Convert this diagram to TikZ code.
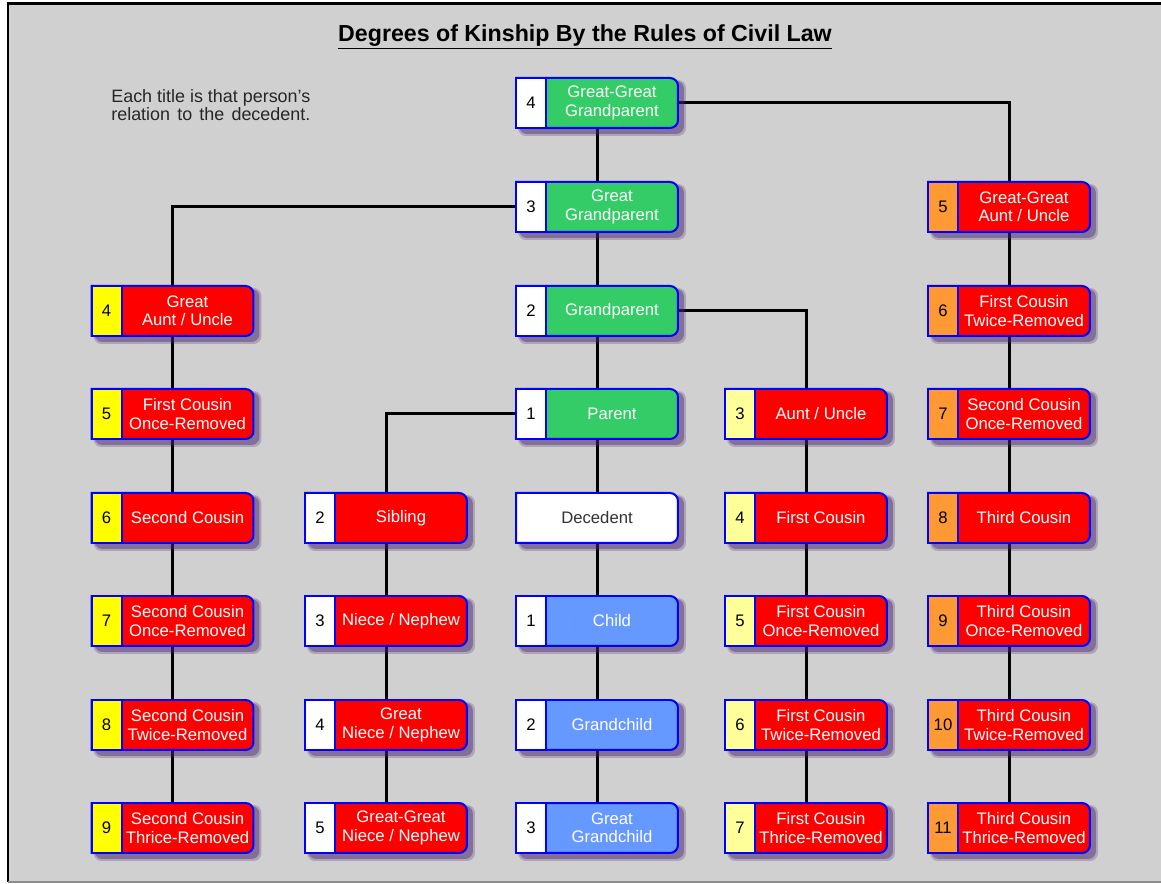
\documentclass[tikz,border=0pt]{standalone}
\usepackage{fontspec}
\setmainfont{Liberation Sans}
\usetikzlibrary{positioning, backgrounds}

\definecolor{kinblue}{RGB}{0,0,255}
\definecolor{kingreen}{RGB}{51,204,102}
\definecolor{kinred}{RGB}{255,0,0}
\definecolor{kinsky}{RGB}{102,153,255}
\definecolor{kinyellow}{RGB}{255,255,0}
\definecolor{kinpale}{RGB}{255,255,153}
\definecolor{kinorange}{RGB}{255,153,51}
\definecolor{kingray}{RGB}{208,208,208}
\definecolor{kinshade}{RGB}{70,35,110}

% body of a box: shadow, then the frame with rounded right corners
\newcommand{\kinshape}[3]{%
  \node[kinframe] (#1) at (#2) {};
  \fill[kinshadow, opacity=0.25] ([shift={(2,2)}]#1.north west) rectangle ([shift={(8,8)}]#1.south east);
  \fill[kinshadow, opacity=0.4] ([shift={(3,3)}]#1.north west) rectangle ([shift={(6,6)}]#1.south east);
  \draw[kinline, fill=#3] (#1.north west) -- ([xshift=-0.16cm]#1.north east)
    arc[start angle=90, end angle=0, radius=0.16cm] -- ([yshift=0.16cm]#1.south east)
    arc[start angle=0, end angle=-90, radius=0.16cm] -- (#1.south west) -- cycle;
}
% name, position, cell colour, degree, body colour, title
\newcommand{\kinbox}[6]{%
  \kinshape{#1}{#2}{#5}
  \node[kincell, fill=#3, anchor=west] (#1-deg) at (#1.west) {#4};
  \node[kintitle, right=0pt of #1-deg] (#1-txt) {#6};
}

\begin{document}
\begin{tikzpicture}[
    x=0.02cm, y=-0.02cm,
    kinframe/.style={
      rectangle, minimum width=3.24cm, minimum height=1.0cm,
      inner sep=0pt, outer sep=0pt
    },
    kinline/.style={draw=kinblue, line width=0.04cm},
    kinshadow/.style={fill=kinshade, rounded corners=0.16cm},
    kincell/.style={
      rectangle, draw=kinblue, line width=0.04cm,
      minimum width=0.6cm, minimum height=1.0cm,
      inner sep=0pt, outer sep=0pt,
      font=\fontsize{9.5}{10.5}\selectfont, text=black
    },
    kintitle/.style={
      rectangle, minimum width=2.64cm, minimum height=1.0cm,
      inner sep=0pt, outer sep=0pt, align=center,
      font=\fontsize{9.5}{10.5}\selectfont, text=white
    },
    link/.style={line width=0.06cm, draw=black}
  ]
    \useasboundingbox (0,0) rectangle (1161,884);

    \node[font=\fontsize{13.2}{15}\selectfont\bfseries] (title) at (585,37)
      {\underline{Degrees of Kinship By the Rules of Civil Law}};
    \node[anchor=north west, align=left, inner sep=0pt, text=black!85,
      font=\fontsize{10.2}{10.6}\selectfont] (note) at (111,89)
      {\makebox[3.98cm][s]{Each title is that person's}\\
       \makebox[3.98cm][s]{relation to the decedent.}};

    \kinbox{gggp}{597,103}{white}{4}{kingreen}{Great-Great\\Grandparent}
    \kinbox{ggp}{597,207}{white}{3}{kingreen}{Great\\Grandparent}
    \kinbox{gp}{597,311}{white}{2}{kingreen}{Grandparent}
    \kinbox{par}{597,414}{white}{1}{kingreen}{Parent}
    \kinshape{dec}{597,518}{white}
    \node[kintitle, minimum width=3.24cm, text=black!80] (dec-txt) at (dec) {Decedent};
    \kinbox{chi}{597,621}{white}{1}{kinsky}{Child}
    \kinbox{gch}{597,725}{white}{2}{kinsky}{Grandchild}
    \kinbox{ggch}{597,828}{white}{3}{kinsky}{Great\\Grandchild}

    \kinbox{gau}{172.5,311}{kinyellow}{4}{kinred}{Great\\Aunt / Uncle}
    \kinbox{fcoa}{172.5,414}{kinyellow}{5}{kinred}{First Cousin\\Once-Removed}
    \kinbox{sc}{172.5,518}{kinyellow}{6}{kinred}{Second Cousin}
    \kinbox{sco}{172.5,621}{kinyellow}{7}{kinred}{Second Cousin\\Once-Removed}
    \kinbox{sctw}{172.5,725}{kinyellow}{8}{kinred}{Second Cousin\\Twice-Removed}
    \kinbox{scth}{172.5,828}{kinyellow}{9}{kinred}{Second Cousin\\Thrice-Removed}

    \kinbox{sib}{386,518}{white}{2}{kinred}{Sibling}
    \kinbox{nie}{386,621}{white}{3}{kinred}{Niece / Nephew}
    \kinbox{gnie}{386,725}{white}{4}{kinred}{Great\\Niece / Nephew}
    \kinbox{ggnie}{386,828}{white}{5}{kinred}{Great-Great\\Niece / Nephew}

    \kinbox{au}{806,414}{kinpale}{3}{kinred}{Aunt / Uncle}
    \kinbox{fc}{806,518}{kinpale}{4}{kinred}{First Cousin}
    \kinbox{fco}{806,621}{kinpale}{5}{kinred}{First Cousin\\Once-Removed}
    \kinbox{fctw}{806,725}{kinpale}{6}{kinred}{First Cousin\\Twice-Removed}
    \kinbox{fcth}{806,828}{kinpale}{7}{kinred}{First Cousin\\Thrice-Removed}

    \kinbox{ggau}{1009,207}{kinorange}{5}{kinred}{Great-Great\\Aunt / Uncle}
    \kinbox{fctwe}{1009,311}{kinorange}{6}{kinred}{First Cousin\\Twice-Removed}
    \kinbox{scoe}{1009,414}{kinorange}{7}{kinred}{Second Cousin\\Once-Removed}
    \kinbox{tc}{1009,518}{kinorange}{8}{kinred}{Third Cousin}
    \kinbox{tco}{1009,621}{kinorange}{9}{kinred}{Third Cousin\\Once-Removed}
    \kinbox{tctw}{1009,725}{kinorange}{10}{kinred}{Third Cousin\\Twice-Removed}
    \kinbox{tcth}{1009,828}{kinorange}{11}{kinred}{Third Cousin\\Thrice-Removed}

    \begin{scope}[on background layer]
      \fill[white] (0,0) rectangle (1161,884);
      \fill[kingray] (8,4) rectangle (1161,882);
      \draw[line width=0.06cm] (1161,4) -- (8,4) -- (8,882);
      \draw[black!45, line width=0.03cm] (8,882) -- (1161,882);

      \draw[link] (gggp.east) -| (ggau.north);
      \draw[link] (ggp.west) -| (gau.north);
      \draw[link] (gp.east) -| (au.north);
      \draw[link] (par.west) -| (sib.north);

      \draw[link] (gggp.south) -- (ggp.north);
      \draw[link] (ggp.south) -- (gp.north);
      \draw[link] (gp.south) -- (par.north);
      \draw[link] (par.south) -- (dec.north);
      \draw[link] (dec.south) -- (chi.north);
      \draw[link] (chi.south) -- (gch.north);
      \draw[link] (gch.south) -- (ggch.north);

      \draw[link] (gau.south) -- (fcoa.north);
      \draw[link] (fcoa.south) -- (sc.north);
      \draw[link] (sc.south) -- (sco.north);
      \draw[link] (sco.south) -- (sctw.north);
      \draw[link] (sctw.south) -- (scth.north);

      \draw[link] (sib.south) -- (nie.north);
      \draw[link] (nie.south) -- (gnie.north);
      \draw[link] (gnie.south) -- (ggnie.north);

      \draw[link] (au.south) -- (fc.north);
      \draw[link] (fc.south) -- (fco.north);
      \draw[link] (fco.south) -- (fctw.north);
      \draw[link] (fctw.south) -- (fcth.north);

      \draw[link] (ggau.south) -- (fctwe.north);
      \draw[link] (fctwe.south) -- (scoe.north);
      \draw[link] (scoe.south) -- (tc.north);
      \draw[link] (tc.south) -- (tco.north);
      \draw[link] (tco.south) -- (tctw.north);
      \draw[link] (tctw.south) -- (tcth.north);
    \end{scope}
  \end{tikzpicture}
\end{document}
